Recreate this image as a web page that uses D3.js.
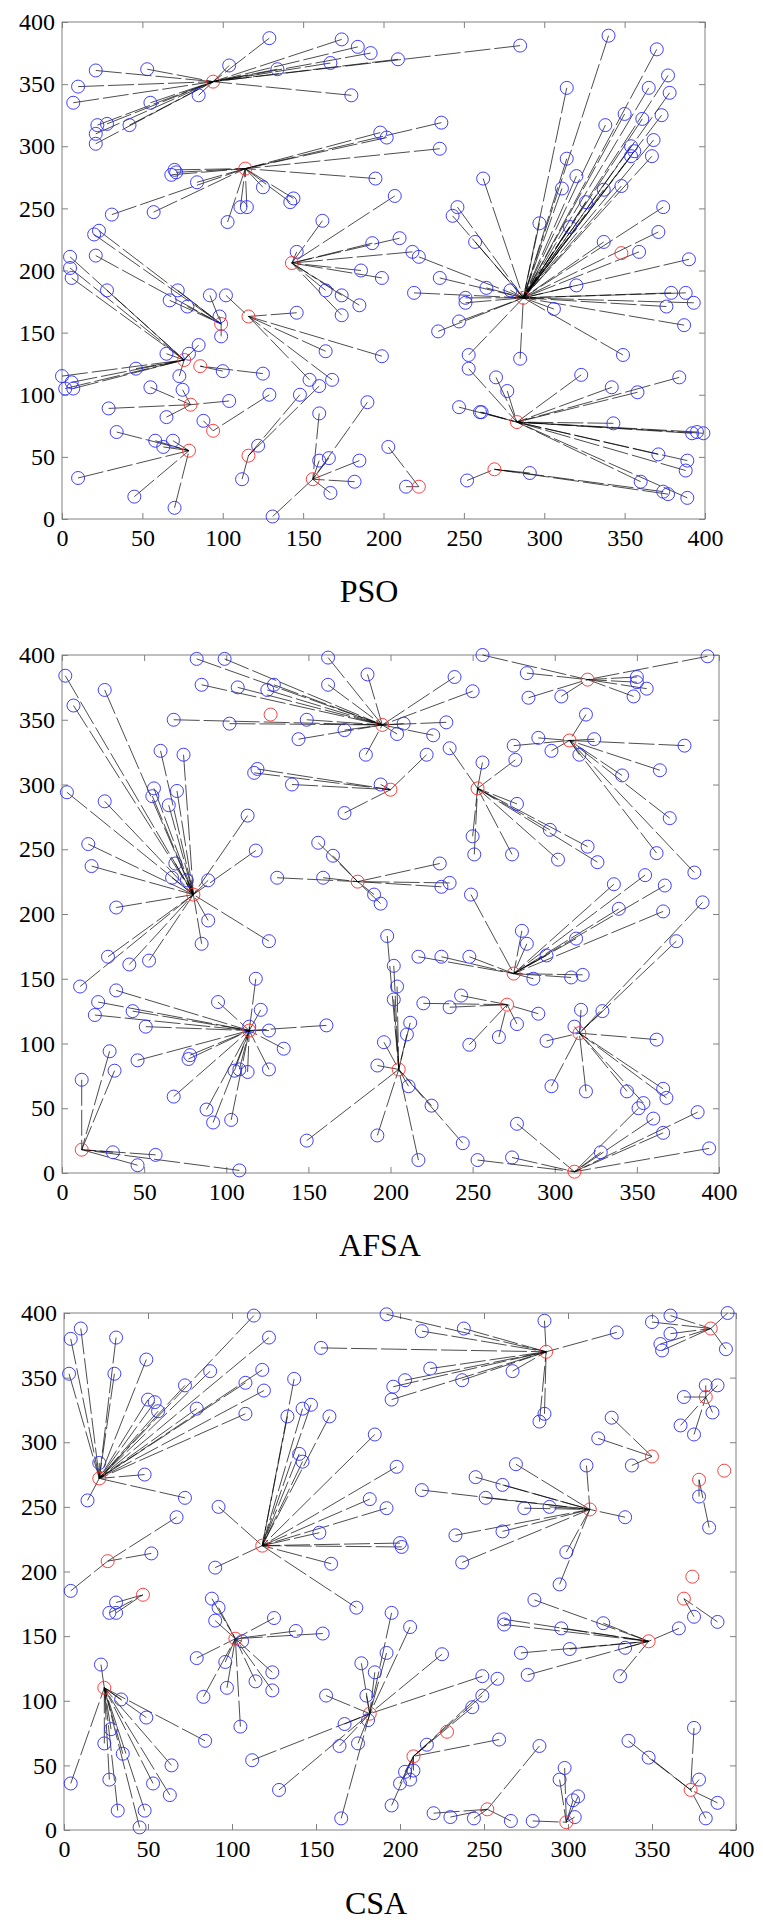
<!DOCTYPE html>
<html>
<head>
<meta charset="utf-8">
<script src="https://cdn.jsdelivr.net/npm/d3@7"></script>
<style>
  body { margin: 0; background: #fff; }
  svg { display: block; }
</style>
</head>
<body>
<script>
// axis ticks shared by the three panels
const tickValues = [0, 50, 100, 150, 200, 250, 300, 350, 400];

// PSO: cluster heads (red) and member nodes [x, y, head index]
const psoHeads = [[94,352],[114,282],[143,206],[287,178],[348,214],[99,157],[116,163],[76,128],[86,123],[80,92],[94,71],[79,55],[116,51],[156,32],[283,78],[269,40],[222,26]];
const psoNodes = [
  [129,387,0],[174,386,0],[184,380,0],[192,375,0],[209,370,0],[167,367,0],[134,362,0],[104,365,0],[53,362,0],[21,361,0],[10,348,0],[7,335,0],[55,335,0],[85,341,0],[180,341,0],[22,317,0],[28,318,0],[21,310,0],[21,302,0],[42,317,0],[285,381,0],
  [198,311,1],[202,307,1],[236,319,1],[235,298,1],[195,274,1],[70,281,1],[68,277,1],[71,279,1],[84,271,1],[31,245,1],[57,247,1],[103,239,1],[111,251,1],[115,251,1],[125,267,1],[144,258,1],[142,255,1],
  [207,260,2],[162,240,2],[146,215,2],[193,222,2],[210,226,2],[186,200,2],[199,194,2],[164,184,2],[185,172,2],[174,180,2],[174,164,2],[218,215,2],
  [235,194,3],[219,182,3],[251,178,3],[251,174,3],[264,186,3],[279,184,3],[306,169,3],[320,188,3],[379,182,3],[388,182,3],[376,171,3],[393,174,3],[387,156,3],[349,132,3],[247,159,3],[234,151,3],[253,132,3],[285,129,3],[340,389,3],[314,347,3],[370,378,3],[377,357,3],[365,347,3],[378,343,3],[350,326,3],[361,322,3],[373,325,3],[338,317,3],[368,305,3],[354,300,3],[356,296,3],[354,292,3],[367,292,3],[314,290,3],[320,276,3],[311,266,3],[337,265,3],[348,268,3],[326,255,3],[297,238,3],[316,235,3],[374,251,3],[371,231,3],[337,223,3],[359,215,3],[390,209,3],[262,274,3],[246,251,3],[243,244,3],[257,223,3],[222,211,3],
  [23,232,5],[20,229,5],[21,212,5],[92,180,5],[72,184,5],[67,176,5],[78,171,5],[98,163,5],[99,147,5],
  [146,166,6],[164,135,6],[199,131,6],[154,112,6],[168,112,6],[102,180,6],
  [5,211,7],[5,202,7],[6,194,7],[28,184,7],[73,115,7],[79,133,7],[85,140,7],[65,133,7],[46,121,7],[0,115,7],[6,110,7],[2,105,7],[7,105,7],
  [100,119,8],[125,117,8],
  [104,95,9],[75,104,9],[55,106,9],[65,82,9],[29,89,9],
  [88,79,10],[129,100,10],
  [34,70,11],[58,63,11],[63,58,11],[69,63,11],[10,33,11],[45,18,11],[70,9,11],
  [160,107,12],[148,100,12],[122,59,12],[112,32,12],
  [131,2,13],[160,85,13],[160,47,13],[166,49,13],[185,47,13],[182,30,13],[167,21,13],[190,94,13],
  [253,121,14],[270,114,14],[277,103,14],[247,90,14],[260,86,14],[261,86,14],[323,116,14],[342,106,14],[358,102,14],[384,114,14],[343,77,14],[392,69,14],[395,70,14],[399,69,14],[371,52,14],[389,47,14],[388,39,14],[360,30,14],[389,17,14],
  [291,37,15],[252,31,15],[374,22,15],[377,20,15],
  [214,26,16],[203,58,16]
];

// AFSA
const afsaHeads = [[80,215],[195,346],[127,354],[200,296],[180,225],[320,381],[309,334],[253,297],[114,110],[12,18],[205,80],[275,154],[271,130],[315,108],[312,1]];
const afsaNodes = [
  [2,384,0],[26,373,0],[7,361,0],[60,326,0],[74,323,0],[3,294,0],[26,287,0],[56,297,0],[55,291,0],[70,295,0],[65,284,0],[16,254,0],[18,237,0],[33,205,0],[69,239,0],[67,228,0],[76,226,0],[89,226,0],[113,276,0],[118,249,0],[89,195,0],[85,177,0],[126,179,0],[28,167,0],[41,161,0],[53,164,0],[11,144,0],
  [82,397,1],[99,397,1],[162,398,1],[186,385,1],[85,377,1],[107,375,1],[125,373,1],[129,377,1],[162,377,1],[68,350,1],[102,347,1],[149,350,1],[172,342,1],[144,335,1],[185,323,1],[208,347,1],[204,339,1],[234,348,1],[226,338,1],[239,383,1],[250,372,1],
  [119,312,3],[117,309,3],[140,300,3],[194,300,3],[172,278,3],[222,323,3],
  [156,255,4],[165,245,4],[131,228,4],[159,228,4],[190,215,4],[194,208,4],[230,239,4],[236,224,4],[231,221,4],
  [256,400,5],[283,386,5],[284,367,5],[304,368,5],[350,383,5],[350,379,5],[356,374,5],[348,368,5],[393,399,5],
  [370,274,6],[362,247,6],[385,232,6],[364,311,6],[341,307,6],[315,323,6],[298,326,6],[290,336,6],[275,330,6],[319,354,6],[324,335,6],[379,330,6],
  [236,328,7],[256,317,7],[276,319,7],[277,285,7],[297,265,7],[320,252,7],[326,240,7],[302,242,7],[274,246,7],[250,260,7],[251,246,7],
  [33,141,8],[22,132,8],[20,122,8],[43,125,8],[51,113,8],[95,132,8],[121,126,8],[118,150,8],[114,113,8],[126,110,8],[161,114,8],[135,96,8],[126,80,8],[113,78,8],[108,80,8],[105,79,8],[103,41,8],[92,39,8],[88,49,8],[68,59,8],[46,87,8],[77,88,8],[78,91,8],
  [29,94,9],[32,79,9],[12,72,9],[31,16,9],[57,14,9],[46,6,9],[108,2,9],
  [198,183,10],[202,160,10],[204,144,10],[202,134,10],[196,101,10],[192,83,10],[192,29,10],[149,25,10],[212,116,10],[210,107,10],[211,67,10],[225,52,10],[244,23,10],[217,10,10],
  [249,215,11],[280,187,11],[283,177,11],[295,168,11],[313,181,11],[287,150,11],[310,151,11],[317,153,11],[217,167,11],[231,167,11],[248,167,11],[336,223,11],[355,230,11],[367,222,11],[339,204,11],[366,202,11],
  [243,137,12],[220,131,12],[236,128,12],[290,123,12],[277,115,12],[266,105,12],[248,99,12],
  [390,209,13],[374,179,13],[316,126,13],[329,125,13],[312,113,13],[295,102,13],[362,103,13],[298,67,13],[319,63,13],[344,63,13],[354,54,13],[366,65,13],[368,58,13],
  [253,10,14],[274,12,14],[277,38,14],[328,16,14],[360,42,14],[366,31,14],[387,47,14],[394,19,14],[351,50,14]
];

// CSA
const csaHeads = [[21,272],[26,208],[118,220],[287,370],[385,388],[382,335],[350,289],[393,278],[378,271],[313,248],[374,196],[47,182],[24,110],[102,148],[182,90],[369,179],[348,146],[228,76],[208,57],[252,16],[299,6],[373,31]];
const csaNodes = [
  [4,380,0],[10,388,0],[31,381,0],[3,353,0],[30,353,0],[49,364,0],[113,398,0],[122,381,0],[87,355,0],[72,344,0],[118,356,0],[108,346,0],[119,340,0],[50,333,0],[54,331,0],[56,324,0],[79,326,0],[108,322,0],[21,284,0],[48,275,0],[72,257,0],[14,255,0],
  [52,214,1],[67,242,1],[4,185,1],
  [92,250,2],[137,349,2],[133,320,2],[142,326,2],[147,329,2],[158,320,2],[140,291,2],[142,285,2],[185,306,2],[198,281,2],[182,256,2],[192,249,2],[152,230,2],[200,222,2],[201,219,2],[159,206,2],[90,203,2],[174,172,2],
  [286,394,3],[329,385,3],[238,388,3],[213,386,3],[267,355,3],[237,348,3],[218,357,3],[203,348,3],[196,343,3],[195,333,3],[286,322,3],[283,316,3],[153,373,3],[192,399,3],
  [361,398,4],[350,393,4],[395,400,4],[361,384,4],[355,376,4],[356,371,4],[394,372,4],
  [382,344,5],[389,344,5],[369,335,5],[386,323,5],[367,313,5],[375,306,5],
  [326,319,6],[318,303,6],[338,282,6],
  [378,258,8],[384,234,8],
  [311,282,9],[269,283,9],[245,273,9],[261,267,9],[213,263,9],[251,257,9],[274,249,9],[289,250,9],[334,242,9],[261,231,9],[233,228,9],[237,207,9],[299,215,9],[295,190,9],
  [31,176,11],[27,168,11],[31,168,11],
  [22,128,12],[34,101,12],[49,87,12],[28,78,12],[24,67,12],[35,59,12],[64,50,12],[27,39,12],[53,36,12],[63,27,12],[32,15,12],[48,15,12],[45,2,12],[4,36,12],[84,69,12],
  [88,179,13],[92,172,13],[90,162,13],[125,164,13],[138,154,13],[154,152,13],[106,146,13],[79,133,13],[96,130,13],[124,122,13],[114,115,13],[124,108,13],[97,110,13],[83,103,13],[105,80,13],
  [177,129,14],[185,122,14],[192,137,14],[195,168,14],[180,104,14],[156,104,14],[167,82,14],[181,85,14],[164,65,14],[175,67,14],[112,54,14],[128,31,14],[165,9,14],[206,157,14],[225,136,14],[249,119,14],
  [375,165,15],[389,161,15],
  [280,178,16],[262,163,16],[262,159,16],[296,156,16],[321,160,16],[366,156,16],[334,141,16],[301,140,16],[272,137,16],[276,120,16],[331,119,16],
  [258,117,18],[249,104,18],[243,95,18],[216,66,18],[259,70,18],[203,45,18],[208,46,18],[206,39,18],[200,36,18],[195,19,18],
  [283,65,19],[220,13,19],[230,10,19],[244,9,19],[266,7,19],
  [279,7,20],[298,48,20],[295,39,20],[306,26,20],[303,23,20],[304,10,20],
  [336,69,21],[348,56,21],[375,79,21],[378,39,21],[389,21,21],[382,9,21]
];

// panel layout on the page
const panels = [
  { title: "PSO",  heads: psoHeads,  nodes: psoNodes,  left: 62, right: 705, top: 22,   bottom: 519,  titleX: 369, titleY: 602 },
  { title: "AFSA", heads: afsaHeads, nodes: afsaNodes, left: 62, right: 719, top: 655,  bottom: 1173, titleX: 380, titleY: 1256 },
  { title: "CSA",  heads: csaHeads,  nodes: csaNodes,  left: 64, right: 736, top: 1313, bottom: 1830, titleX: 376, titleY: 1914 }
];

const font = "'Liberation Serif', 'Times New Roman', serif";
const svg = d3.select("body").append("svg")
  .attr("width", 763)
  .attr("height", 1922);

panels.forEach(p => {
  const x = d3.scaleLinear().domain([0, 400]).range([p.left, p.right]);
  const y = d3.scaleLinear().domain([0, 400]).range([p.bottom, p.top]);
  const g = svg.append("g");

  // axes, ticks pointing inward on all four sides
  const styleAxis = sel => {
    sel.select(".domain").remove();
    sel.selectAll(".tick line").attr("stroke", "#808080");
    sel.selectAll(".tick text").attr("fill", "#000")
      .style("font-family", font).style("font-size", "24px");
  };
  g.append("g").attr("transform", `translate(0,${p.bottom})`)
    .call(d3.axisBottom(x).tickValues(tickValues).tickSize(-6).tickPadding(10))
    .call(styleAxis);
  g.append("g").attr("transform", `translate(${p.left},0)`)
    .call(d3.axisLeft(y).tickValues(tickValues).tickSize(-6).tickPadding(7))
    .call(styleAxis);
  g.append("g").attr("transform", `translate(0,${p.top})`)
    .call(d3.axisTop(x).tickValues(tickValues).tickSize(-6).tickFormat(""))
    .call(styleAxis);
  g.append("g").attr("transform", `translate(${p.right},0)`)
    .call(d3.axisRight(y).tickValues(tickValues).tickSize(-6).tickFormat(""))
    .call(styleAxis);

  // frame
  g.append("rect")
    .attr("x", p.left).attr("y", p.top)
    .attr("width", p.right - p.left).attr("height", p.bottom - p.top)
    .attr("fill", "none").attr("stroke", "#808080").attr("stroke-width", 1);

  // links from each node to its cluster head
  g.selectAll("line.link")
    .data(p.nodes)
    .join("line")
    .attr("class", "link")
    .attr("x1", d => x(d[0])).attr("y1", d => y(d[1]))
    .attr("x2", d => x(p.heads[d[2]][0])).attr("y2", d => y(p.heads[d[2]][1]))
    .attr("stroke", "#000")
    .attr("stroke-width", 0.7)
    .attr("stroke-dasharray", "26,4");

  // member nodes
  g.selectAll("circle.node")
    .data(p.nodes)
    .join("circle")
    .attr("class", "node")
    .attr("cx", d => x(d[0])).attr("cy", d => y(d[1]))
    .attr("r", 6.5)
    .attr("fill", "none")
    .attr("stroke", "#2a2aff")
    .attr("stroke-width", 0.9);

  // cluster heads
  g.selectAll("circle.head")
    .data(p.heads)
    .join("circle")
    .attr("class", "head")
    .attr("cx", d => x(d[0])).attr("cy", d => y(d[1]))
    .attr("r", 6.5)
    .attr("fill", "none")
    .attr("stroke", "#ff2a2a")
    .attr("stroke-width", 0.9);

  // panel title
  g.append("text")
    .attr("x", p.titleX).attr("y", p.titleY)
    .attr("text-anchor", "middle")
    .style("font-family", font).style("font-size", "32px")
    .text(p.title);
});
</script>
</body>
</html>
